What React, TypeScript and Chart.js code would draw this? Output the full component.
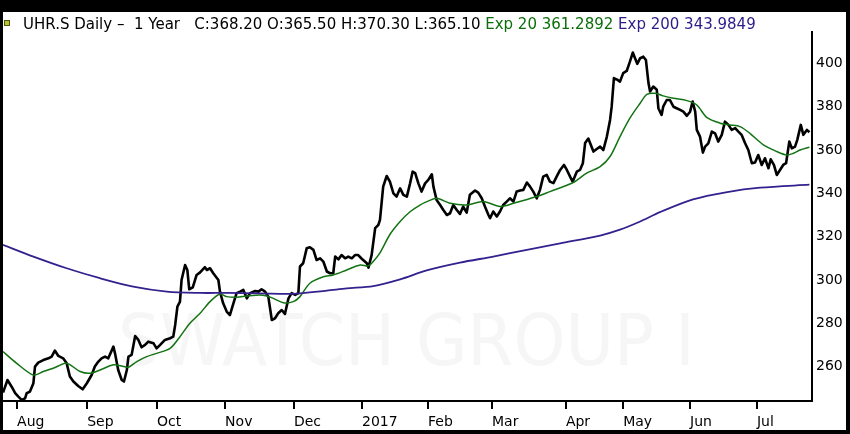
import React, { useEffect, useRef } from "react";
import { Chart, registerables } from "chart.js";

Chart.register(...registerables);

// ---- Header texts ----
const headerMain = "UHR.S Daily –  1 Year   C:368.20 O:365.50 H:370.30 L:365.10 ";
const headerExp20 = "Exp 20 361.2892 ";
const headerExp200 = "Exp 200 343.9849";
const watermarkText = "SWATCH GROUP I";

// ---- Axes ----
const monthLabels = ["Aug", "Sep", "Oct", "Nov", "Dec", "2017", "Feb", "Mar", "Apr", "May", "Jun", "Jul"];
// trading-day index at which each month starts
const monthTickDay = [4.4, 26.3, 48.1, 69.4, 90.9, 112.2, 132.8, 152.8, 175.9, 193.8, 214.7, 235.6];
const yTicks = [260, 280, 300, 320, 340, 360, 380, 400];

// ---- Series: [trading-day index, value] ----
const closeSeries: [number, number][] = [
  [0, 248], [1.4, 253.8], [2.7, 250.7], [3.8, 247.7], [4.8, 246.1], [5.8, 244.6], [6.9, 245.3], [7.4, 247.7],
  [8.4, 248.4], [9.5, 252.3], [10, 260], [11, 261.8], [12.6, 263], [14.2, 263.8], [15.2, 264.6], [16.2, 267.4],
  [17.3, 264.9], [18.8, 263.8], [19.9, 261.5], [20.9, 255.4], [22, 253.1], [23.5, 251], [24.9, 249.5], [26.2, 252.3],
  [27.7, 256.1], [28.7, 260], [29.8, 262.3], [30.8, 263.8], [31.9, 264.6], [32.9, 263.8], [34.5, 269.2], [35, 266.1],
  [36, 258.4], [37.1, 253.8], [37.8, 253.1], [38.7, 258.4], [39.2, 264.6], [40.2, 265.4], [41.3, 274.1], [42.3, 272.3],
  [43.3, 268.9], [44.4, 270], [45.4, 271.5], [47, 270.8], [48, 268.4], [49.1, 270], [50.6, 272.3], [52.2, 273.1],
  [53.2, 273.8], [53.8, 279.2], [54.5, 287.7], [55.3, 290], [55.8, 300], [56.9, 306.9], [57.6, 304.6], [58.2, 295.7],
  [59.3, 296.6], [60.5, 302.3], [61.6, 303.5],
  [63.1, 305.9], [63.7, 304.6], [64.7, 305.4], [65.7, 303.1], [67.3, 300], [67.8, 294.6], [68.8, 289.2], [69.9, 285.4],
  [70.9, 283.8], [72, 289.2], [73, 293.9], [74.1, 294.6], [75.1, 295.4], [76.2, 291.5], [77.2, 293.9], [78.8, 294.9],
  [79.8, 294.6], [80.8, 295.7], [81.9, 294.6], [82.9, 292.3], [84, 281.5], [85, 282.3], [86, 284.6], [87.1, 286.1],
  [88.1, 284.3], [89.2, 291.5], [90.2, 293.9], [91.3, 293.1], [92.3, 293.9], [92.8, 306.2], [93.8, 307.7], [94.9, 314.6],
  [95.9, 315.1], [97, 313.9], [98, 309.2], [99.1, 310], [100.1, 308.5], [101.2, 303.9], [102.2, 303.1], [103.2, 303.1],
  [103.8, 310.8], [104.8, 309.5], [105.8, 311.5], [106.9, 310], [107.9, 310.8], [109, 310], [110, 311.5], [111, 311.5],
  [112.1, 309.8],
  [113.7, 307.7], [114.2, 305.7], [115.2, 311.6], [116.3, 323.9], [117.3, 325.4], [117.8, 327.7], [118.8, 343.1],
  [119.9, 348], [120.9, 345.4], [122, 340], [123, 338.5], [124.1, 342.3], [125.1, 339.3], [126.2, 338.5], [127.2, 344.6],
  [128, 350], [128.8, 349.3], [129.8, 344.6], [130.8, 340.8], [131.9, 344.6], [132.9, 346.2], [134, 348.8], [134.5, 343.1],
  [135.5, 336.9], [136.6, 334.6], [137.6, 332.3], [138.7, 330], [139.7, 330.8], [140.7, 334.6], [141.8, 332.3],
  [142.8, 330.5], [143.8, 333.9], [144.4, 332.3], [144.9, 331.1], [145.9, 339.3], [147.5, 341.3], [148.5, 340.3],
  [149.6, 337.7], [150.6, 333.9], [151.7, 330], [152.2, 328.5], [153.2, 331.6], [154.3, 329.3], [155.3, 331.6],
  [156.3, 334.6], [157.4, 336.2], [158.4, 337.7], [159.5, 336.2], [160.5, 340.8], [161.6, 341.3], [162.6, 341.6],
  [163.7, 345], [164.7, 343.1], [165.7, 340.8], [166.8, 337.7], [167.8, 341.6], [168.8, 347.7], [169.9, 348.5],
  [170.9, 345.4], [172, 344.7], [173, 347.7], [174.1, 350.8], [175.3, 353.1], [176.2, 350.8], [177.2, 347.7],
  [178, 345.4], [179.3, 350], [180.3, 350.8], [181.2, 353.9], [181.9, 363.2], [182.9, 365.3], [184.5, 359.3],
  [186.6, 361.6], [187.6, 360], [188.7, 366.2], [189.7, 373.9], [190.2, 380], [190.9, 393.2], [191.9, 392.5],
  [192.8, 391.6], [193.8, 395.5], [194.9, 396.5], [195.9, 400.8], [196.8, 405], [197.5, 402.4], [198.2, 399.8],
  [199.1, 402.4], [200.1, 403.1], [200.9, 401.6], [201.7, 390.9], [202.2, 387], [203.2, 389.3], [204.3, 387.8],
  [204.8, 379.3], [205.8, 376.2], [206.3, 380], [207.4, 383.1], [208.4, 383.1], [209.5, 380], [210.5, 379.3],
  [211.6, 378.5], [212.6, 377.7], [213.7, 375.8], [214.7, 377.7], [215.5, 382.4], [216.3, 377.7], [216.8, 369.3],
  [217.8, 366.2], [218.7, 358.8], [219.4, 361.6], [220.4, 363.1], [221.5, 368.5], [222.5, 367.7], [223.5, 363.9],
  [224.6, 367], [225.6, 373.1], [226.7, 371.6], [227.7, 369.3], [228.8, 370.1], [229.8, 368.5], [230.8, 367],
  [231.9, 363.1], [232.9, 360], [234, 353.9], [235, 354.2], [236, 357.7], [237.1, 353.1], [238.1, 356.2],
  [239.2, 351.6], [239.9, 355.7], [240.9, 353.1], [241.8, 348.5], [242.8, 350.8], [243.8, 353.1], [244.7, 353.9],
  [245.7, 363.9], [246.5, 360.8], [247.5, 361.6], [248.2, 364.7], [249.3, 371.6], [250.1, 367], [251.2, 369.3],
  [252, 368.2],
];

const exp20Series: [number, number][] = [
  [0, 266.9], [4.3, 261.5], [9.5, 256.1], [12.6, 257.7], [15.7, 259.2], [19.4, 261.5], [20.9, 260.9], [24.1, 257.7],
  [27.2, 256.9], [30.3, 258.4], [34.5, 260.8], [37, 260.3], [39.2, 259.7], [41.8, 262.3], [44.9, 264.6], [48, 266.1],
  [52.2, 268.4], [55.3, 273.8], [58.4, 280], [61.6, 284.6], [64.7, 290], [67.8, 293.5], [69.9, 292.3], [73, 292],
  [76.2, 292.6], [80.3, 293.1], [82.4, 292.6], [84.5, 291.5], [87.6, 289.5], [90.7, 290], [92.8, 292.3], [95.9, 298.5],
  [100.1, 301.5], [103.2, 302.3], [107.4, 304.6], [111.6, 306.9], [114.2, 306.5], [115.7, 308.5], [117.8, 312.5],
  [120.9, 321], [124.1, 327], [127.2, 331.5], [130.3, 334.6], [133, 336.5], [135.5, 337.7], [139.7, 335.4],
  [144.9, 334.6], [150.1, 336.2], [155.3, 333.9], [159.5, 335.4], [166.8, 338.5], [170.9, 340.8], [178.2, 345],
  [182.4, 349.3], [186.6, 352.3], [189.7, 357], [192.8, 366.2], [195.9, 374.7], [199.1, 381.6], [201.2, 385.7],
  [203.8, 386.2], [206.3, 385], [209.5, 383.9], [213.7, 382.8], [216.8, 380.8], [219.9, 375.1], [224.1, 372.4],
  [227.2, 371.6], [230.3, 370.8], [233.4, 367.7], [237.6, 362.4], [241.8, 359.3], [244.9, 357.7], [247, 358.5],
  [249.1, 360], [252, 361.3],
];

const exp200Series: [number, number][] = [
  [0, 316.2], [9.5, 310.8], [19.9, 305.4], [30.3, 300.8], [40.7, 296.9], [51.2, 294.6], [61.6, 294], [69.9, 294],
  [80.3, 293.8], [90.7, 293.6], [101.2, 295.1], [107.4, 296.1], [115.7, 297.2], [124.1, 300.3], [132.4, 304.4],
  [142.8, 308], [153.2, 310.8], [163.7, 313.9], [174.1, 316.9], [186.6, 320.5], [192.8, 323.2], [199.1, 327],
  [205.3, 331.3], [215.6, 337.2], [226.3, 340.6], [236.6, 342.6], [252, 344],
];

const FONT = "'DejaVu Sans', Verdana, sans-serif";

const watermarkPlugin = {
  id: "watermark",
  beforeDatasetsDraw(chart: any) {
    const { ctx, chartArea: a } = chart;
    ctx.save();
    ctx.font = `71px ${FONT}`;
    ctx.fillStyle = "#f6f6f6";
    ctx.textBaseline = "alphabetic";
    const w = ctx.measureText(watermarkText).width;
    const targetW = a.width * 0.713;
    ctx.translate(a.left + a.width * 0.142, a.top + a.height * 0.902);
    ctx.scale(targetW / w, 1);
    ctx.fillText(watermarkText, 0, 0);
    ctx.restore();
  },
};

const toPts = (s: [number, number][]) => s.map(([x, y]) => ({ x, y }));

export default function App() {
  const ref = useRef<HTMLCanvasElement | null>(null);

  useEffect(() => {
    if (!ref.current) return;
    const chart = new Chart(ref.current, {
      type: "line",
      data: {
        datasets: [
          {
            label: "Exp 200",
            data: toPts(exp200Series),
            borderColor: "#35208f",
            borderWidth: 1.8,
            pointRadius: 0,
            tension: 0.3,
            order: 0,
          },
          {
            label: "Exp 20",
            data: toPts(exp20Series),
            borderColor: "#137313",
            borderWidth: 1.5,
            pointRadius: 0,
            tension: 0.3,
            order: 1,
          },
          {
            label: "UHR.S",
            data: toPts(closeSeries),
            borderColor: "#000000",
            borderWidth: 2.6,
            borderJoinStyle: "round",
            pointRadius: 0,
            tension: 0,
            order: 2,
          },
        ],
      } as any,
      options: {
        animation: false,
        responsive: false,
        maintainAspectRatio: false,
        layout: { padding: { top: 20, left: 0, right: 0, bottom: 0 } },
        plugins: {
          legend: { display: false },
          tooltip: { enabled: false },
          title: { display: false },
        },
        scales: {
          x: {
            type: "linear",
            position: "bottom",
            min: 0,
            max: 252.8,
            afterBuildTicks: (s: any) => {
              s.ticks = monthTickDay.map((v) => ({ value: v }));
            },
            afterFit: (s: any) => {
              s.height = 29;
            },
            grid: {
              display: true,
              drawOnChartArea: false,
              drawTicks: true,
              tickLength: 8,
              color: "#000",
              lineWidth: 2,
            },
            border: { display: true, color: "#000", width: 2 },
            ticks: {
              align: "start",
              padding: 5,
              autoSkip: false,
              maxRotation: 0,
              minRotation: 0,
              color: "#000",
              font: { family: FONT, size: 14 },
              callback: (_v: any, i: number) => monthLabels[i],
            },
          },
          y: {
            type: "linear",
            position: "right",
            min: 244.1,
            max: 414.5,
            afterBuildTicks: (s: any) => {
              s.ticks = yTicks.map((v) => ({ value: v }));
            },
            afterFit: (s: any) => {
              s.width = 34;
            },
            grid: { display: false, drawTicks: false },
            border: { display: true, color: "#000", width: 2 },
            ticks: {
              padding: 4,
              color: "#000",
              font: { family: FONT, size: 14 },
              callback: (v: any) => String(v),
            },
          },
        },
      } as any,
      plugins: [watermarkPlugin],
    });
    return () => chart.destroy();
  }, []);

  return (
    <div
      style={{
        position: "fixed",
        left: 0,
        top: 0,
        width: 850,
        height: 434,
        background: "#000",
        overflow: "hidden",
      }}
    >
      <div
        style={{
          position: "absolute",
          left: 3,
          top: 12,
          width: 843,
          height: 418,
          background: "#fff",
        }}
      >
        <canvas ref={ref} width={843} height={418} style={{ width: 843, height: 418, display: "block" }} />
      </div>
      <div
        style={{
          position: "absolute",
          left: 4,
          top: 20,
          width: 4,
          height: 4,
          background: "#b9c22c",
          border: "1px solid #4d540f",
        }}
      />
      <div
        style={{
          position: "absolute",
          left: 23,
          top: 16,
          font: `15px ${FONT}`,
          lineHeight: "17px",
          whiteSpace: "pre",
          color: "#000",
        }}
      >
        <span>{headerMain}</span>
        <span style={{ color: "#0b6e0b" }}>{headerExp20}</span>
        <span style={{ color: "#2d1b87" }}>{headerExp200}</span>
      </div>
    </div>
  );
}
